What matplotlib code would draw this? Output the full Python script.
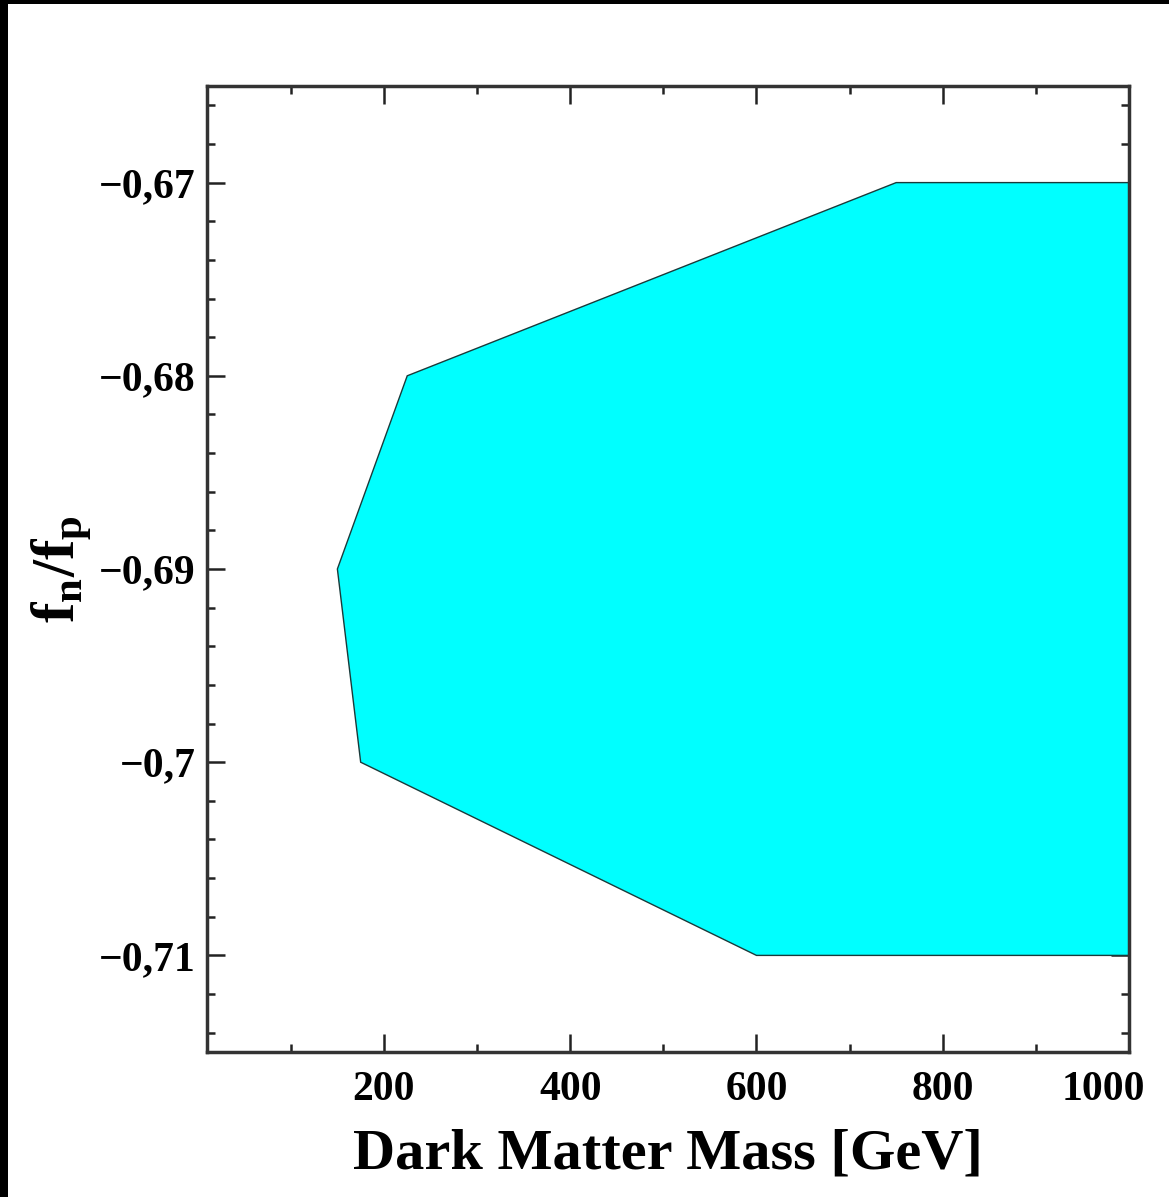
import matplotlib
matplotlib.use("Agg")

import matplotlib.pyplot as plt
import matplotlib.transforms as mtransforms
from matplotlib.patches import Rectangle
from matplotlib.ticker import MultipleLocator, FuncFormatter

# region boundary (dark matter mass in GeV, f_n/f_p)
mass = [1000, 750, 225, 150, 175, 600, 1000]
ratio = [-0.67, -0.67, -0.68, -0.69, -0.70, -0.71, -0.71]

x_ticks = [200, 400, 600, 800, 1000]
y_ticks = [-0.67, -0.68, -0.69, -0.70, -0.71]

plt.rcParams["font.family"] = ["Liberation Serif", "DejaVu Serif"]
plt.rcParams["font.weight"] = "bold"
plt.rcParams["mathtext.fontset"] = "custom"
plt.rcParams["mathtext.rm"] = "Liberation Serif:bold"
plt.rcParams["mathtext.it"] = "Liberation Serif:bold"
plt.rcParams["mathtext.bf"] = "Liberation Serif:bold"

fig = plt.figure(figsize=(11.69, 11.97), dpi=100)
ax = fig.add_axes([207 / 1169, 1 - 1052 / 1197, 922 / 1169, 966 / 1197])

ax.fill(mass, ratio, facecolor="#00ffff", edgecolor="#1a3a3a", linewidth=1.0, zorder=2)

ax.set_xlim(10, 1000)
ax.set_ylim(-0.715, -0.665)

ax.set_xticks(x_ticks)
ax.set_yticks(y_ticks)
ax.xaxis.set_minor_locator(MultipleLocator(100))
ax.yaxis.set_minor_locator(MultipleLocator(0.002))


def comma_fmt(v, pos):
    s = f"{v:.2f}".rstrip("0").rstrip(".")
    return s.replace("-", "\u2212").replace(".", ",")


ax.xaxis.set_major_formatter(FuncFormatter(lambda v, p: f"{v:.0f}"))
ax.yaxis.set_major_formatter(FuncFormatter(comma_fmt))

ax.tick_params(which="both", direction="in", top=True, right=True,
               width=1.8, color="#222222", labelsize=30)
ax.tick_params(axis="x", pad=14)
ax.tick_params(axis="y", pad=8)
ax.tick_params(which="major", length=13)
ax.tick_params(which="minor", length=6)
for lbl in ax.get_xticklabels() + ax.get_yticklabels():
    lbl.set_fontweight("bold")

# last x label sits a bit left of its tick, as in the original
last = ax.get_xticklabels()[-1]
last.set_transform(last.get_transform() +
                   mtransforms.ScaledTranslation(-26 / 100, 0, fig.dpi_scale_trans))

for sp in ax.spines.values():
    sp.set_linewidth(2.5)
    sp.set_color("#333333")

ax.set_xlabel("Dark Matter Mass [GeV]", fontsize=42, fontweight="bold", labelpad=14)
ax.set_ylabel(r"$\mathbf{f_n/f_p}$", fontsize=44, labelpad=4)

# black frame strips on top and left of the image
fig.add_artist(Rectangle((0, 1 - 4 / 1197), 1, 4 / 1197, transform=fig.transFigure,
                         facecolor="black", edgecolor="none"))
fig.add_artist(Rectangle((0, 0), 8 / 1169, 1, transform=fig.transFigure,
                         facecolor="black", edgecolor="none"))

plt.savefig("out.png", dpi=100)
plt.close()
